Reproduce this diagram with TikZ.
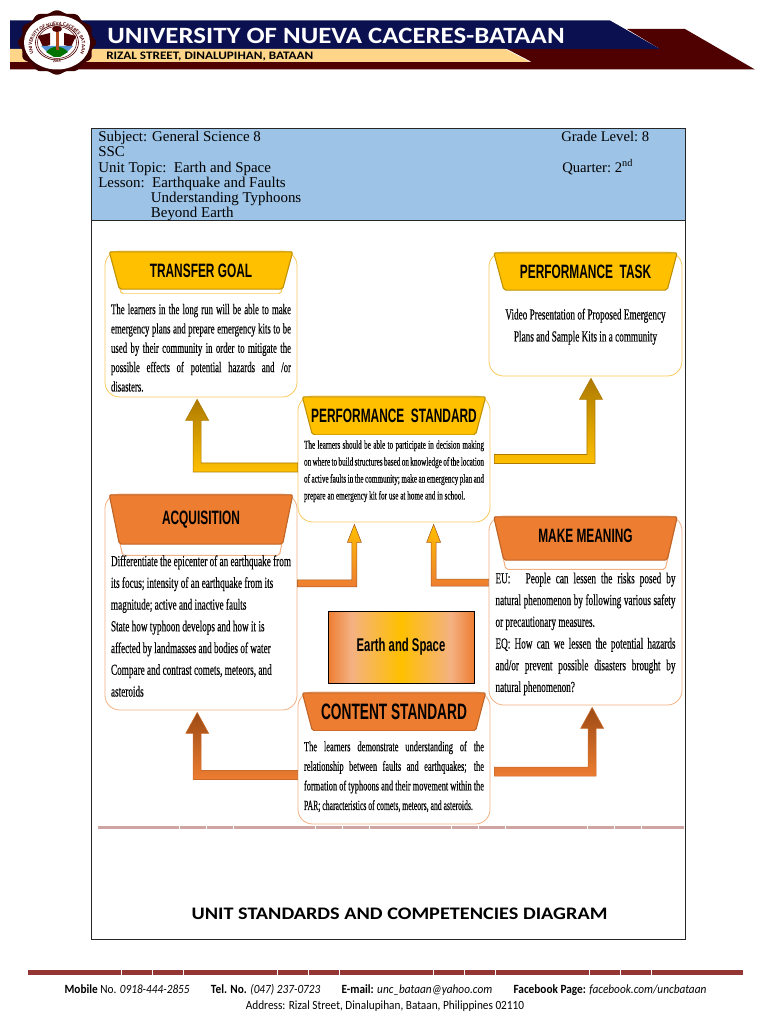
\documentclass[tikz,border=0pt]{standalone}
\usepackage{fontspec}
\usepackage{xcolor}
\usetikzlibrary{positioning, calc, decorations.text}
\setmainfont{Liberation Serif}
\newfontfamily\bodyserif{Liberation Serif}[FakeStretch=0.6, FakeBold=0.25]
\newfontfamily\tightserif{Liberation Serif}[FakeStretch=0.55, FakeBold=0.25]
\newfontfamily\hdrsans{Liberation Sans}[FakeStretch=0.615]
\newfontfamily\capsans{Carlito}
\newfontfamily\bannersans{Carlito}[FakeStretch=1.15]
\newfontfamily\footsans{Carlito}[FakeStretch=0.9]
\definecolor{bandblue}{HTML}{9DC3E6}
\definecolor{navy}{HTML}{0B1150}
\definecolor{maroon}{HTML}{4F0000}
\definecolor{sand}{HTML}{FFD58A}
\definecolor{gold}{HTML}{FFC000}
\definecolor{golddark}{HTML}{AD7A00}
\definecolor{goldline}{HTML}{F8C95A}
\definecolor{orange}{HTML}{ED7D31}
\definecolor{orangedark}{HTML}{9C4A14}
\definecolor{orangeline}{HTML}{F4B183}
\definecolor{rulered}{HTML}{943634}
\pgfdeclarehorizontalshading{earthshade}{100bp}{color(0bp)=(orange); color(25bp)=(orange); color(33bp)=(orangeline); color(50bp)=(gold); color(67bp)=(orangeline); color(75bp)=(orange); color(100bp)=(orange)}

\begin{document}
\begin{tikzpicture}[
  x=0.75pt, y=-0.75pt,
  goldbox/.style={rectangle, draw=goldline, line width=0.6pt, fill=white, rounded corners=11pt, inner sep=0pt},
  orangebox/.style={rectangle, draw=orangeline, line width=0.6pt, fill=white, rounded corners=11pt, inner sep=0pt},
  trap/.style n args={3}{rectangle, minimum width=137.5pt, inner sep=0pt, text=black, path picture={\filldraw[fill=#1, draw=#2, rounded corners=1.5pt, line width=0.8pt] (path picture bounding box.north west) -- (path picture bounding box.north east) -- ([xshift=-#3]path picture bounding box.south east) -- ([xshift=#3]path picture bounding box.south west) -- cycle;}},
  goldhdr/.style={trap={gold}{gold!75!black}{7.5pt}, font=\hdrsans\fontsize{14.5}{16}\bfseries\selectfont},
  orangehdr/.style={trap={orange}{orange!80!black}{7.5pt}, font=\hdrsans\fontsize{14.5}{16}\bfseries\selectfont},
  bodytext/.style={inner sep=0pt, text width=135pt, align=justify},
  elbow/.style n args={7}{to path={
      ++(#6,-#5) -- ($(\tikztotarget |- \tikztostart)+(#1*#2,-#5)$)
      -- ($(\tikztotarget)+(#1*#2,2+#4)$) -- ($(\tikztotarget)+(#1*#3,2+#4)$)
      -- ($(\tikztotarget)+(0,2)$)
      -- ($(\tikztotarget)+(#7*#3,2+#4)$) -- ($(\tikztotarget)+(#7*#2,2+#4)$)
      -- ($(\tikztotarget |- \tikztostart)+(#7*#2,#5)$) -- ($(\tikztostart)+(#6,#5)$) -- cycle}},
  bigleft/.style={elbow={1}{4}{11.5}{21}{4.5}{0}{-1}},
  bigright/.style={elbow={-1}{4}{11.5}{21}{4.5}{4}{1}},
  smallleft/.style={elbow={1}{2.5}{7}{18}{3.5}{0}{-1}},
  smallright/.style={elbow={-1}{2.5}{7}{18}{3.5}{0}{1}},
  goldarrow/.style={top color=golddark, bottom color=gold, draw=golddark, line width=0.5pt},
  paleflow/.style={top color=gold, bottom color=orange, draw=orange!70!black, line width=0.4pt},
  brownarrow/.style={top color=orangedark, bottom color=orange, draw=orange!85!black, line width=0.4pt},
  rulethin/.style={draw=rulered!45, line width=1.6pt, dash pattern=on 20pt off 0.4pt},
  rulethick/.style={draw=rulered, line width=3.4pt, dash pattern=on 23pt off 0.4pt}
]
  \useasboundingbox (0,0) rectangle (768,1024);

  % letterhead
  \fill[maroon] (10,62) -- (532,62) -- (507,49) -- (660,49) -- (627,29) -- (685,29) -- (755,69.5) -- (10,69.5) -- cycle;
  \fill[navy] (10,20.5) -- (610,20.5) -- (660,49) -- (10,49) -- cycle;
  \fill[sand] (10,49) -- (505,49) -- (530,62) -- (10,62) -- cycle;
  \node[anchor=west, inner sep=0pt, text=white, font=\bannersans\fontsize{17.5}{20}\bfseries\selectfont] (uni) at (107,35.5) {UNIVERSITY OF NUEVA CACERES-BATAAN};
  \node[anchor=west, inner sep=0pt, text=black, font=\bannersans\fontsize{8.6}{10}\bfseries\selectfont] (street) at (106,56.5) {RIZAL STREET, DINALUPIHAN, BATAAN};

  % seal
  \fill[maroon!75!black] plot[domain=0:360, samples=144, smooth] ({57+(37.5+1.5*cos(12*\x))*cos(\x)}, {42.5+(31+1.2*cos(12*\x))*sin(\x)});
  \fill[white] (57,42.5) ellipse [x radius=33, y radius=27];
  \draw[maroon, line width=0.5pt] (57,42.5) ellipse [x radius=21.5, y radius=17.5];
  \draw[maroon, line width=0.4pt] (57,42.5) ellipse [x radius=19.5, y radius=16];
  \path[decorate, decoration={text along path, text align=center, text={|\capsans\fontsize{3.8}{4}\bfseries\selectfont\color{maroon}|UNIVERSITY OF NUEVA CACERES BATAAN}}] (57,42.5) ++(130:25) arc [start angle=130, end angle=410, x radius=25, y radius=20.5];
  \path[decorate, decoration={text along path, text align=center, text={|\capsans\fontsize{3}{4}\bfseries\selectfont\color{maroon}|2014}}] (37,52) arc [start angle=150, end angle=30, x radius=23, y radius=21];
  \fill[maroon] (38,36) -- (50,33) -- (50,45) -- (43,47) -- cycle;
  \fill[maroon] (76,36) -- (64,33) -- (64,45) -- (71,47) -- cycle;
  \fill[cyan!55!blue!70] (41,46) -- (73,46) -- (66,53) -- (48,53) -- cycle;
  \fill[green!45!black] (46,52) .. controls (52,45) and (62,45) .. (68,52) -- (60,57) -- (54,57) -- cycle;
  \fill[orange!60!maroon] (55.5,32) rectangle (58.5,50);
  \fill[maroon] (57,29) ellipse [x radius=5, y radius=3];

  % frame and subject band
  \node[rectangle, draw=black!85, line width=0.6pt, minimum width=445.5pt, minimum height=608.25pt, inner sep=0pt] (frame) at (388,533.5) {};
  \node[rectangle, draw=black!85, fill=bandblue, line width=0.6pt, minimum width=445.5pt, minimum height=69pt, inner sep=0pt, below=0pt of frame.north] (band) {};
  \node[anchor=north west, inner sep=0pt, align=left, font=\fontsize{11.2}{11.4}\selectfont] (subject) at (98,131) {Subject: General Science 8\\SSC\\Unit Topic:\ \ Earth and Space\\Lesson:\ \ Earthquake and Faults\\\hspace*{39.5pt}Understanding Typhoons\\\hspace*{39.5pt}Beyond Earth};
  \node[anchor=west, inner sep=0pt, font=\fontsize{11}{11.4}\selectfont] (grade) at (561,137) {Grade Level:\ 8};
  \node[anchor=west, inner sep=0pt, font=\fontsize{11}{11.4}\selectfont] (quarter) at (562,167) {Quarter:\ 2\textsuperscript{nd}};

  % boxes
  \node[goldbox, minimum width=144pt, minimum height=109.5pt] (tgoal) at (201,324) {};
  \node[goldbox, minimum width=144.75pt, minimum height=93pt] (ptask) at (585.5,314) {};
  \node[goldbox, minimum width=144pt, minimum height=94.5pt] (pstd) at (394,459) {};
  \node[orangebox, minimum width=144pt, minimum height=162pt] (acq) at (201,602) {};
  \node[orangebox, minimum width=144.75pt, minimum height=141.75pt] (mmean) at (585.5,610.5) {};
  \node[orangebox, minimum width=144pt, minimum height=99pt] (cstd) at (394,758) {};

  % header backs
  \node[trap={white}{goldline}{9pt}, minimum height=31.5pt, below=0.7pt of tgoal.north] (tgoal-back) {};
  \node[trap={white}{orangeline}{10pt}, minimum height=45.5pt, below=0.7pt of acq.north] (acq-back) {};
  \node[trap={white}{orangeline}{9pt}, minimum height=39.5pt, below=0.7pt of mmean.north] (mmean-back) {};

  % headers
  \node[goldhdr, minimum height=28pt, below=0.7pt of tgoal.north] (tgoal-hdr) {TRANSFER GOAL};
  \node[goldhdr, minimum height=28pt, below=0.7pt of ptask.north] (ptask-hdr) {PERFORMANCE\ \ TASK};
  \node[goldhdr, minimum height=28.5pt, below=0.7pt of pstd.north] (pstd-hdr) {PERFORMANCE\ \ STANDARD};
  \node[orangehdr, minimum height=37pt, text depth=3pt, below=0.7pt of acq.north] (acq-hdr) {ACQUISITION};
  \node[orangehdr, minimum height=32.5pt, text depth=4pt, below=0.7pt of mmean.north] (mmean-hdr) {MAKE MEANING};
  \node[orangehdr, minimum height=28.5pt, below=0.7pt of cstd.north, font=\hdrsans\fontsize{16.7}{18}\bfseries\selectfont] (cstd-hdr) {CONTENT STANDARD};

  % body texts
  \node[bodytext, below=10.7pt of tgoal-hdr, font=\bodyserif\fontsize{11}{14.5}\selectfont] (tgoal-txt) {The learners in the long run will be able to make\linebreak emergency plans and prepare emergency kits to be\linebreak used by their community in order to mitigate the\linebreak possible effects of potential hazards and /or\linebreak disasters.};
  \node[inner sep=0pt, align=center, below=13.5pt of ptask-hdr, font=\bodyserif\fontsize{11.5}{16.5}\selectfont] (ptask-txt) {Video Presentation of Proposed Emergency\\Plans and Sample Kits in a community};
  \node[bodytext, below=3.75pt of pstd-hdr, font=\bodyserif\fontsize{9}{12.7}\selectfont] (pstd-txt) {The learners should be able to participate in decision making\linebreak on where to build structures based on knowledge of the location\linebreak of active faults in the community; make an emergency plan and\linebreak prepare an emergency kit for use at home and in school.};
  \node[bodytext, below=8pt of acq-hdr, font=\bodyserif\fontsize{11.5}{16.3}\selectfont] (acq-txt) {Differentiate the epicenter of an earthquake from\linebreak its focus; intensity of an earthquake from its\\magnitude; active and inactive faults\\State how typhoon develops and how it is\\affected by landmasses and bodies of water\\Compare and contrast comets, meteors, and\\asteroids};
  \node[bodytext, below=9pt of mmean-hdr, font=\bodyserif\fontsize{11.5}{16.3}\selectfont] (mmean-txt) {EU:\quad People can lessen the risks posed by\linebreak natural phenomenon by following various safety\linebreak or precautionary measures.\\EQ: How can we lessen the potential hazards\linebreak and/or prevent possible disasters brought by\linebreak natural phenomenon?};
  \node[bodytext, below=7.5pt of cstd-hdr, font=\bodyserif\fontsize{10.5}{14.7}\selectfont] (cstd-txt) {The learners demonstrate understanding of the\linebreak relationship between faults and earthquakes; the\linebreak formation of typhoons and their movement within the\linebreak {\tightserif PAR; characteristics of comets, meteors, and asteroids.}};

  \node[rectangle, draw=black, line width=0.6pt, shading=earthshade, minimum width=109.5pt, minimum height=54pt, inner sep=0pt, font=\hdrsans\fontsize{13.8}{15}\bfseries\selectfont] (earth) at (401,647) {Earth and Space};

  % arrows
  \draw[bigleft, goldarrow] (pstd.185) to (tgoal.267);
  \draw[bigright, goldarrow] (pstd.east) to (ptask.275);
  \draw[smallright, paleflow] (acq.11) to (pstd.238);
  \draw[smallleft, paleflow] (mmean.164) to (pstd.302);
  \draw[bigleft, brownarrow] (cstd.190) to (acq.268);
  \draw[bigright, brownarrow] (cstd.352) to (mmean.274);

  % rules and captions
  \draw[rulethin] (98,827.5) -- (684,827.5);
  \node[inner sep=0pt, font=\bannersans\fontsize{13.2}{15}\bfseries\selectfont] (title) at (399.5,914) {UNIT STANDARDS AND COMPETENCIES DIAGRAM};
  \draw[rulethick] (28,972.5) -- (743,972.5);
  \node[inner sep=0pt, font=\footsans\fontsize{9.4}{11}\selectfont] (contact) at (385.5,990) {\textbf{Mobile} No. \textit{0918-444-2855}\hspace{16pt}\textbf{Tel. No.} \textit{(047) 237-0723}\hspace{16pt}\textbf{E-mail:} \textit{unc\_bataan@yahoo.com}\hspace{16pt}\textbf{Facebook Page:} \textit{facebook.com/uncbataan}};
  \node[inner sep=0pt, font=\footsans\fontsize{9.4}{11}\selectfont] (address) at (385,1006) {Address: Rizal Street, Dinalupihan, Bataan, Philippines 02110};
\end{tikzpicture}
\end{document}
